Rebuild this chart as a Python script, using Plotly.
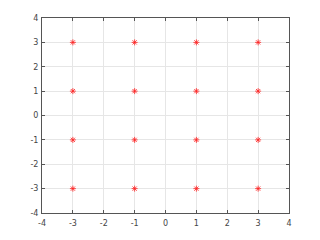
import plotly.graph_objects as go

x_vals = [-3, -3, -3, -3, -1, -1, -1, -1, 1, 1, 1, 1, 3, 3, 3, 3]
y_vals = [3, 1, -1, -3, 3, 1, -1, -3, 3, 1, -1, -3, 3, 1, -1, -3]
tick_vals = [-4, -3, -2, -1, 0, 1, 2, 3, 4]

fig = go.Figure()
fig.add_trace(go.Scatter(
    x=x_vals, y=y_vals, mode="markers",
    marker=dict(symbol="asterisk-open", size=5, color="#ff2020",
                line=dict(color="#ff2020", width=0.8)),
    showlegend=False,
))

axis_common = dict(
    range=[-4, 4], tickvals=tick_vals, ticktext=[str(t) for t in tick_vals],
    showgrid=True, gridcolor="#e6e6e6", gridwidth=1,
    showline=True, linecolor="#555555", linewidth=1, mirror="ticks",
    ticks="inside", ticklen=3, tickcolor="#555555",
    zeroline=False,
    tickfont=dict(family="DejaVu Sans", size=8, color="#444444"),
)

fig.update_layout(
    width=320, height=240,
    margin=dict(l=42, r=31, t=18, b=27),
    paper_bgcolor="white", plot_bgcolor="white",
    xaxis=dict(**axis_common, ticklabelstandoff=2),
    yaxis=dict(**axis_common, ticklabelstandoff=1),
)

fig.write_html("out.html")
